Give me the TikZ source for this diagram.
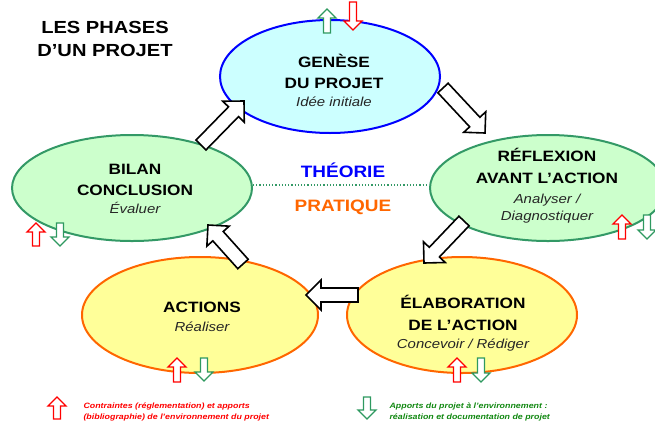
\documentclass[tikz,border=0pt]{standalone}
\usepackage{fontspec}
\setmainfont{Liberation Sans}[FakeStretch=1.15]
\usetikzlibrary{shapes.geometric,calc}

\definecolor{cyanfill}{HTML}{CCFFFF}
\definecolor{greenfill}{HTML}{CCFFCC}
\definecolor{yellowfill}{HTML}{FFFF99}
\definecolor{phaseblue}{HTML}{0000FF}
\definecolor{phasegreen}{HTML}{339966}
\definecolor{phaseorange}{HTML}{FF6600}
\definecolor{arrowred}{HTML}{FF0000}
\definecolor{arrowgreen}{HTML}{2E9960}
\definecolor{legendgreen}{HTML}{118811}

% block arrow: [style]{tail}{tip}{half shaft}{half head}{head length}
\newcommand\blockarr[6][]{%
  \coordinate (ba-neck) at ($(#3)!#6!(#2)$);
  \draw[#1] ($(#2)!#4!90:(#3)$) -- ($(ba-neck)!#4!90:(#3)$)
    -- ($(ba-neck)!#5!90:(#3)$) -- (#3)
    -- ($(ba-neck)!#5!-90:(#3)$) -- ($(ba-neck)!#4!-90:(#3)$)
    -- ($(#2)!#4!-90:(#3)$) -- cycle;
}
\newcommand\bigarr[2]{\blockarr[bigarrow]{#1}{#2}{7pt}{15pt}{15pt}}
\newcommand\redup[2]{\blockarr[redarrow]{#1}{#2}{3.5pt}{9pt}{9pt}}
\newcommand\greendown[2]{\blockarr[greenarrow]{#1}{#2}{3.5pt}{9pt}{9pt}}

\begin{document}
\begin{tikzpicture}[x=1pt,y=-1pt,
  phase/.style={ellipse, inner sep=0pt, line width=2pt},
  bold/.style={anchor=base, font=\bfseries\fontsize{15}{18}\selectfont},
  ital/.style={anchor=base, font=\itshape\fontsize{13}{16}\selectfont, text=black!85},
  big/.style={anchor=base, font=\bfseries\fontsize{16.5}{20}\selectfont},
  titletxt/.style={anchor=base, font=\bfseries\fontsize{17.5}{20}\selectfont},
  legend/.style={anchor=base west, font=\bfseries\itshape\fontsize{7.7}{9}\selectfont},
  bigarrow/.style={draw=black, fill=white, line width=1.6pt, line join=miter},
  redarrow/.style={draw=arrowred, fill=white, line width=1.3pt, line join=miter},
  greenarrow/.style={draw=arrowgreen, fill=white, line width=1.3pt, line join=miter}]
\useasboundingbox (0,0) rectangle (655,421);

% title
\node[titletxt] (t1) at (105,33) {LES PHASES};
\node[titletxt] (t2) at (105,56) {D’UN PROJET};

% the five phases
\node[phase, fill=cyanfill, draw=phaseblue, minimum width=220pt, minimum height=113pt] (genese) at (330,76.5) {};
\node[phase, fill=greenfill, draw=phasegreen, minimum width=236pt, minimum height=106pt] (reflexion) at (548,188) {};
\node[phase, fill=greenfill, draw=phasegreen, minimum width=240pt, minimum height=106pt] (bilan) at (132,188) {};
\node[phase, fill=yellowfill, draw=phaseorange, minimum width=236pt, minimum height=116pt] (actions) at (200,315) {};
\node[phase, fill=yellowfill, draw=phaseorange, minimum width=230pt, minimum height=116pt] (elaboration) at (462,315) {};

% phase labels
\node[bold] (gen1) at (334,67) {GENÈSE};
\node[bold] (gen2) at (334,88) {DU PROJET};
\node[ital] (gen3) at (334,106) {Idée initiale};

\node[bold] (ref1) at (547,161) {RÉFLEXION};
\node[bold] (ref2) at (547,183) {AVANT L’ACTION};
\node[ital] (ref3) at (547,203) {Analyser /};
\node[ital] (ref4) at (547,220) {Diagnostiquer};

\node[bold] (bil1) at (135,174) {BILAN};
\node[bold] (bil2) at (135,195) {CONCLUSION};
\node[ital] (bil3) at (135,213) {Évaluer};

\node[bold] (act1) at (202,312) {ACTIONS};
\node[ital] (act2) at (202,331) {Réaliser};

\node[bold] (ela1) at (463,308) {ÉLABORATION};
\node[bold] (ela2) at (463,330) {DE L’ACTION};
\node[ital] (ela3) at (463,348) {Concevoir / Rédiger};

% theory / practice divide
\draw[phasegreen, line width=1.2pt, dotted] ($(bilan.east)+(0,-3)$) -- ($(reflexion.west)+(0,-3)$);
\node[big, text=phaseblue] (theorie) at (343,177) {THÉORIE};
\node[big, text=phaseorange] (pratique) at (343,211) {PRATIQUE};

% cycle arrows
\coordinate (a1s) at (201,145); \coordinate (a1e) at (244,101);
\coordinate (a2s) at (443,88);  \coordinate (a2e) at (485,133);
\coordinate (a3s) at (464,221); \coordinate (a3e) at (424,263);
\coordinate (a4s) at (358,295); \coordinate (a4e) at (306,295);
\coordinate (a5s) at (243,264); \coordinate (a5e) at (208,225);
\bigarr{a1s}{a1e}
\bigarr{a2s}{a2e}
\bigarr{a3s}{a3e}
\bigarr{a4s}{a4e}
\bigarr{a5s}{a5e}

% exchanges with the environment
\coordinate (g-up0) at (327,33);  \coordinate (g-up1) at (327,9);
\coordinate (g-dn0) at (353,2);   \coordinate (g-dn1) at (353,30);
\greendown{g-up0}{g-up1}
\redup{g-dn0}{g-dn1}

\coordinate (b-up0) at (36,246);  \coordinate (b-up1) at (36,223);
\coordinate (b-dn0) at (60,223);  \coordinate (b-dn1) at (60,246);
\redup{b-up0}{b-up1}
\greendown{b-dn0}{b-dn1}

\coordinate (r-up0) at (622,239); \coordinate (r-up1) at (622,215);
\coordinate (r-dn0) at (647,215); \coordinate (r-dn1) at (647,239);
\redup{r-up0}{r-up1}
\greendown{r-dn0}{r-dn1}

\coordinate (c-up0) at (177,382); \coordinate (c-up1) at (177,358);
\coordinate (c-dn0) at (204,358); \coordinate (c-dn1) at (204,381);
\redup{c-up0}{c-up1}
\greendown{c-dn0}{c-dn1}

\coordinate (e-up0) at (457,382); \coordinate (e-up1) at (457,358);
\coordinate (e-dn0) at (481,358); \coordinate (e-dn1) at (481,382);
\redup{e-up0}{e-up1}
\greendown{e-dn0}{e-dn1}

% legend
\coordinate (l-up0) at (57,419);  \coordinate (l-up1) at (57,397);
\coordinate (l-dn0) at (367,397); \coordinate (l-dn1) at (367,419);
\redup{l-up0}{l-up1}
\greendown{l-dn0}{l-dn1}
\node[legend, text=arrowred] (lr1) at (80,408) {Contraintes (réglementation) et apports};
\node[legend, text=arrowred] (lr2) at (80,419) {(bibliographie) de l’environnement du projet};
\node[legend, text=legendgreen] (lg1) at (386,408) {Apports du projet à l’environnement :};
\node[legend, text=legendgreen] (lg2) at (386,419) {réalisation et documentation de projet};
\end{tikzpicture}
\end{document}
